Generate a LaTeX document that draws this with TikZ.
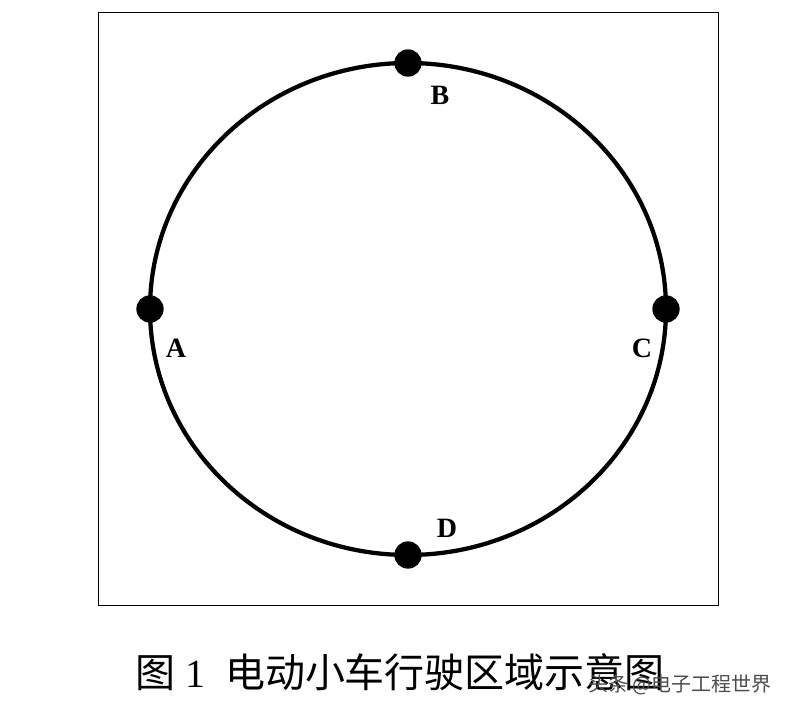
\documentclass[tikz,border=0pt]{standalone}
\usepackage{fontspec}
\usepackage{tikz}
\usetikzlibrary{positioning}
\setmainfont{Liberation Serif}
\newfontfamily\cjk{Noto Sans CJK SC}
\tikzstyle{stop} = [circle, fill = black, inner sep = 0pt, minimum size = 20.5pt]
\tikzstyle{stoplabel} = [font = \fontsize{21}{24}\selectfont\bfseries, inner sep = 0pt]
\tikzstyle{track} = [draw, line width = 3.2pt]

\begin{document}
\begin{tikzpicture}[x = 0.75pt, y = -0.75pt]
    \useasboundingbox (0,0) rectangle (790,712);
    \node (frame) [draw, line width = 0.75pt, minimum width = 465pt,
                   minimum height = 444.75pt, inner sep = 0pt] at (408,309.5) {};
    \path [track] (408,309) ellipse [x radius = 258, y radius = 246];
    \node (a) [stop] at (150,309) {};
    \node (b) [stop] at (408,63)  {};
    \node (c) [stop] at (666,309) {};
    \node (d) [stop] at (408,555) {};
    \node (la) [stoplabel] at (176,348) {A};
    \node (lb) [stoplabel] at (440,95)  {B};
    \node (lc) [stoplabel] at (642,348) {C};
    \node (ld) [stoplabel] at (447,528) {D};
    \node (caption) [font = \fontsize{30}{34}\selectfont] at (400,672)
          {{\cjk 图} 1\ \ {\cjk 电动小车行驶区域示意图}};
    \node (mark) [font = \cjk\fontsize{15}{18}\selectfont, text = black!70] at (680,685)
          {头条 @电子工程世界};
\end{tikzpicture}
\end{document}
